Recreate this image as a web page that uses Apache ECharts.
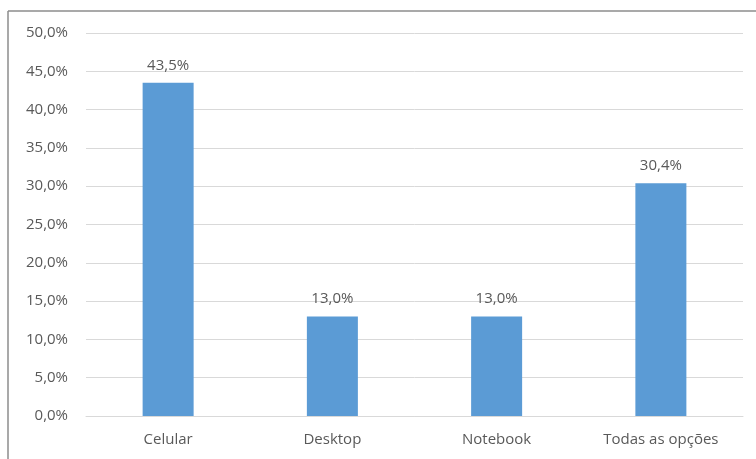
<!DOCTYPE html>
<html>
<head>
<meta charset="utf-8">
<script src="https://cdn.jsdelivr.net/npm/echarts@6/dist/echarts.min.js"></script>
<style>
html,body{margin:0;padding:0;background:#fff;}
#chart{width:756px;height:459px;}
</style>
</head>
<body>
<div id="chart"></div>
<script>
const categories = ['Celular', 'Desktop', 'Notebook', 'Todas as opções'];
const values = [43.5, 13.0, 13.0, 30.4];
const yTicks = { min: 0, max: 50, interval: 5 };

const fmt = v => v.toFixed(1).replace('.', ',') + '%';
const chart = echarts.init(document.getElementById('chart'), null, { renderer: 'canvas' });
const textColor = '#595959';
const font = '"Open Sans", sans-serif';
chart.setOption({
  animation: false,
  backgroundColor: '#ffffff',
  grid: { left: 86, right: 13, top: 33, bottom: 43, containLabel: false },
  xAxis: {
    type: 'category',
    data: categories,
    axisLine: { show: true, lineStyle: { color: '#d9d9d9', width: 1 } },
    axisTick: { show: false },
    axisLabel: { color: textColor, fontSize: 15, fontFamily: font, margin: 16 }
  },
  yAxis: {
    type: 'value',
    min: yTicks.min, max: yTicks.max, interval: yTicks.interval,
    axisLine: { show: false },
    axisTick: { show: false },
    splitLine: { lineStyle: { color: '#d9d9d9', width: 1 } },
    axisLabel: { color: textColor, fontSize: 15, fontFamily: font, margin: 18, formatter: v => fmt(v) }
  },
  series: [{
    type: 'bar',
    data: values,
    barWidth: 51,
    itemStyle: { color: '#5b9bd5' },
    label: {
      show: true, position: 'top', distance: 10,
      color: textColor, fontSize: 15, fontFamily: font,
      formatter: p => fmt(p.value)
    }
  }],
  graphic: [
    { type: 'line', shape: { x1: 8, y1: 11, x2: 756, y2: 11 }, style: { stroke: '#8c8c8c', lineWidth: 1.5 }, silent: true },
    { type: 'line', shape: { x1: 8, y1: 11, x2: 8, y2: 459 }, style: { stroke: '#8c8c8c', lineWidth: 1.5 }, silent: true }
  ]
});
</script>
</body>
</html>
